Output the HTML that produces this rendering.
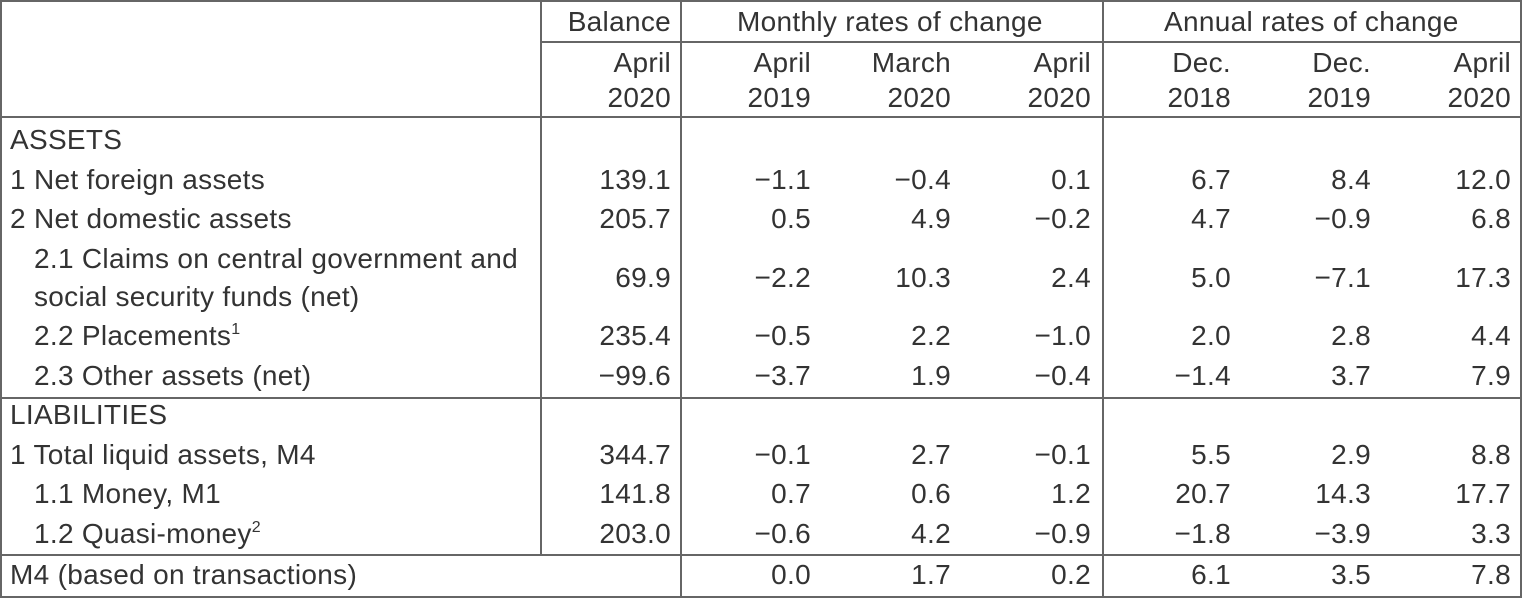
<!DOCTYPE html>
<html><head><meta charset="utf-8"><style>
body{margin:0;width:1522px;height:598px;background:#fff;position:relative;overflow:hidden;font-family:"Liberation Sans",Arial,sans-serif;font-size:28px;letter-spacing:0.3px;color:#333;}
.h,.v{position:absolute;background:#666;}
.h{height:2px}.v{width:2px}
.t{position:absolute;line-height:28px;white-space:nowrap;}
.r{position:absolute;line-height:28px;width:160px;text-align:right;white-space:nowrap;}
sup{font-size:16px;vertical-align:top;line-height:16px;position:relative;top:0px}
</style></head><body>
<div class="h" style="left:0;top:0;width:1522px"></div>
<div class="h" style="left:540px;top:41px;width:982px"></div>
<div class="h" style="left:0;top:116px;width:1522px"></div>
<div class="h" style="left:0;top:397px;width:1522px"></div>
<div class="h" style="left:0;top:554px;width:1522px"></div>
<div class="h" style="left:0;top:596px;width:1522px"></div>
<div class="v" style="left:0;top:0;height:598px"></div>
<div class="v" style="left:1520px;top:0;height:598px"></div>
<div class="v" style="left:540px;top:0;height:555px"></div>
<div class="v" style="left:680px;top:0;height:598px"></div>
<div class="v" style="left:1102px;top:0;height:598px"></div>

<div class="r" style="left:511px;top:8px">Balance</div>
<div class="t" style="left:737px;top:8px">Monthly rates of change</div>
<div class="t" style="left:1164px;top:8px">Annual rates of change</div>

<div class="r" style="left:511px;top:49px">April</div>
<div class="r" style="left:651px;top:49px">April</div>
<div class="r" style="left:791px;top:49px">March</div>
<div class="r" style="left:931px;top:49px">April</div>
<div class="r" style="left:1071px;top:49px">Dec.</div>
<div class="r" style="left:1211px;top:49px">Dec.</div>
<div class="r" style="left:1351px;top:49px">April</div>

<div class="r" style="left:511px;top:84px">2020</div>
<div class="r" style="left:651px;top:84px">2019</div>
<div class="r" style="left:791px;top:84px">2020</div>
<div class="r" style="left:931px;top:84px">2020</div>
<div class="r" style="left:1071px;top:84px">2018</div>
<div class="r" style="left:1211px;top:84px">2019</div>
<div class="r" style="left:1351px;top:84px">2020</div>

<div class="t" style="left:10px;top:126px">ASSETS</div>

<div class="t" style="left:10px;top:166px">1 Net foreign assets</div>
<div class="r" style="left:511px;top:166px">139.1</div><div class="r" style="left:651px;top:166px">−1.1</div><div class="r" style="left:791px;top:166px">−0.4</div><div class="r" style="left:931px;top:166px">0.1</div><div class="r" style="left:1071px;top:166px">6.7</div><div class="r" style="left:1211px;top:166px">8.4</div><div class="r" style="left:1351px;top:166px">12.0</div>

<div class="t" style="left:10px;top:205px">2 Net domestic assets</div>
<div class="r" style="left:511px;top:205px">205.7</div><div class="r" style="left:651px;top:205px">0.5</div><div class="r" style="left:791px;top:205px">4.9</div><div class="r" style="left:931px;top:205px">−0.2</div><div class="r" style="left:1071px;top:205px">4.7</div><div class="r" style="left:1211px;top:205px">−0.9</div><div class="r" style="left:1351px;top:205px">6.8</div>

<div class="t" style="left:34px;top:245px">2.1 Claims on central government and</div>
<div class="t" style="left:34px;top:283px">social security funds (net)</div>
<div class="r" style="left:511px;top:264px">69.9</div><div class="r" style="left:651px;top:264px">−2.2</div><div class="r" style="left:791px;top:264px">10.3</div><div class="r" style="left:931px;top:264px">2.4</div><div class="r" style="left:1071px;top:264px">5.0</div><div class="r" style="left:1211px;top:264px">−7.1</div><div class="r" style="left:1351px;top:264px">17.3</div>

<div class="t" style="left:34px;top:322px">2.2 Placements<sup>1</sup></div>
<div class="r" style="left:511px;top:322px">235.4</div><div class="r" style="left:651px;top:322px">−0.5</div><div class="r" style="left:791px;top:322px">2.2</div><div class="r" style="left:931px;top:322px">−1.0</div><div class="r" style="left:1071px;top:322px">2.0</div><div class="r" style="left:1211px;top:322px">2.8</div><div class="r" style="left:1351px;top:322px">4.4</div>

<div class="t" style="left:34px;top:362px">2.3 Other assets (net)</div>
<div class="r" style="left:511px;top:362px">−99.6</div><div class="r" style="left:651px;top:362px">−3.7</div><div class="r" style="left:791px;top:362px">1.9</div><div class="r" style="left:931px;top:362px">−0.4</div><div class="r" style="left:1071px;top:362px">−1.4</div><div class="r" style="left:1211px;top:362px">3.7</div><div class="r" style="left:1351px;top:362px">7.9</div>

<div class="t" style="left:10px;top:401px">LIABILITIES</div>

<div class="t" style="left:10px;top:441px">1 Total liquid assets, M4</div>
<div class="r" style="left:511px;top:441px">344.7</div><div class="r" style="left:651px;top:441px">−0.1</div><div class="r" style="left:791px;top:441px">2.7</div><div class="r" style="left:931px;top:441px">−0.1</div><div class="r" style="left:1071px;top:441px">5.5</div><div class="r" style="left:1211px;top:441px">2.9</div><div class="r" style="left:1351px;top:441px">8.8</div>

<div class="t" style="left:34px;top:480px">1.1 Money, M1</div>
<div class="r" style="left:511px;top:480px">141.8</div><div class="r" style="left:651px;top:480px">0.7</div><div class="r" style="left:791px;top:480px">0.6</div><div class="r" style="left:931px;top:480px">1.2</div><div class="r" style="left:1071px;top:480px">20.7</div><div class="r" style="left:1211px;top:480px">14.3</div><div class="r" style="left:1351px;top:480px">17.7</div>

<div class="t" style="left:34px;top:520px">1.2 Quasi-money<sup>2</sup></div>
<div class="r" style="left:511px;top:520px">203.0</div><div class="r" style="left:651px;top:520px">−0.6</div><div class="r" style="left:791px;top:520px">4.2</div><div class="r" style="left:931px;top:520px">−0.9</div><div class="r" style="left:1071px;top:520px">−1.8</div><div class="r" style="left:1211px;top:520px">−3.9</div><div class="r" style="left:1351px;top:520px">3.3</div>

<div class="t" style="left:10px;top:561px">M4 (based on transactions)</div>
<div class="r" style="left:651px;top:561px">0.0</div><div class="r" style="left:791px;top:561px">1.7</div><div class="r" style="left:931px;top:561px">0.2</div><div class="r" style="left:1071px;top:561px">6.1</div><div class="r" style="left:1211px;top:561px">3.5</div><div class="r" style="left:1351px;top:561px">7.8</div>
</body></html>
